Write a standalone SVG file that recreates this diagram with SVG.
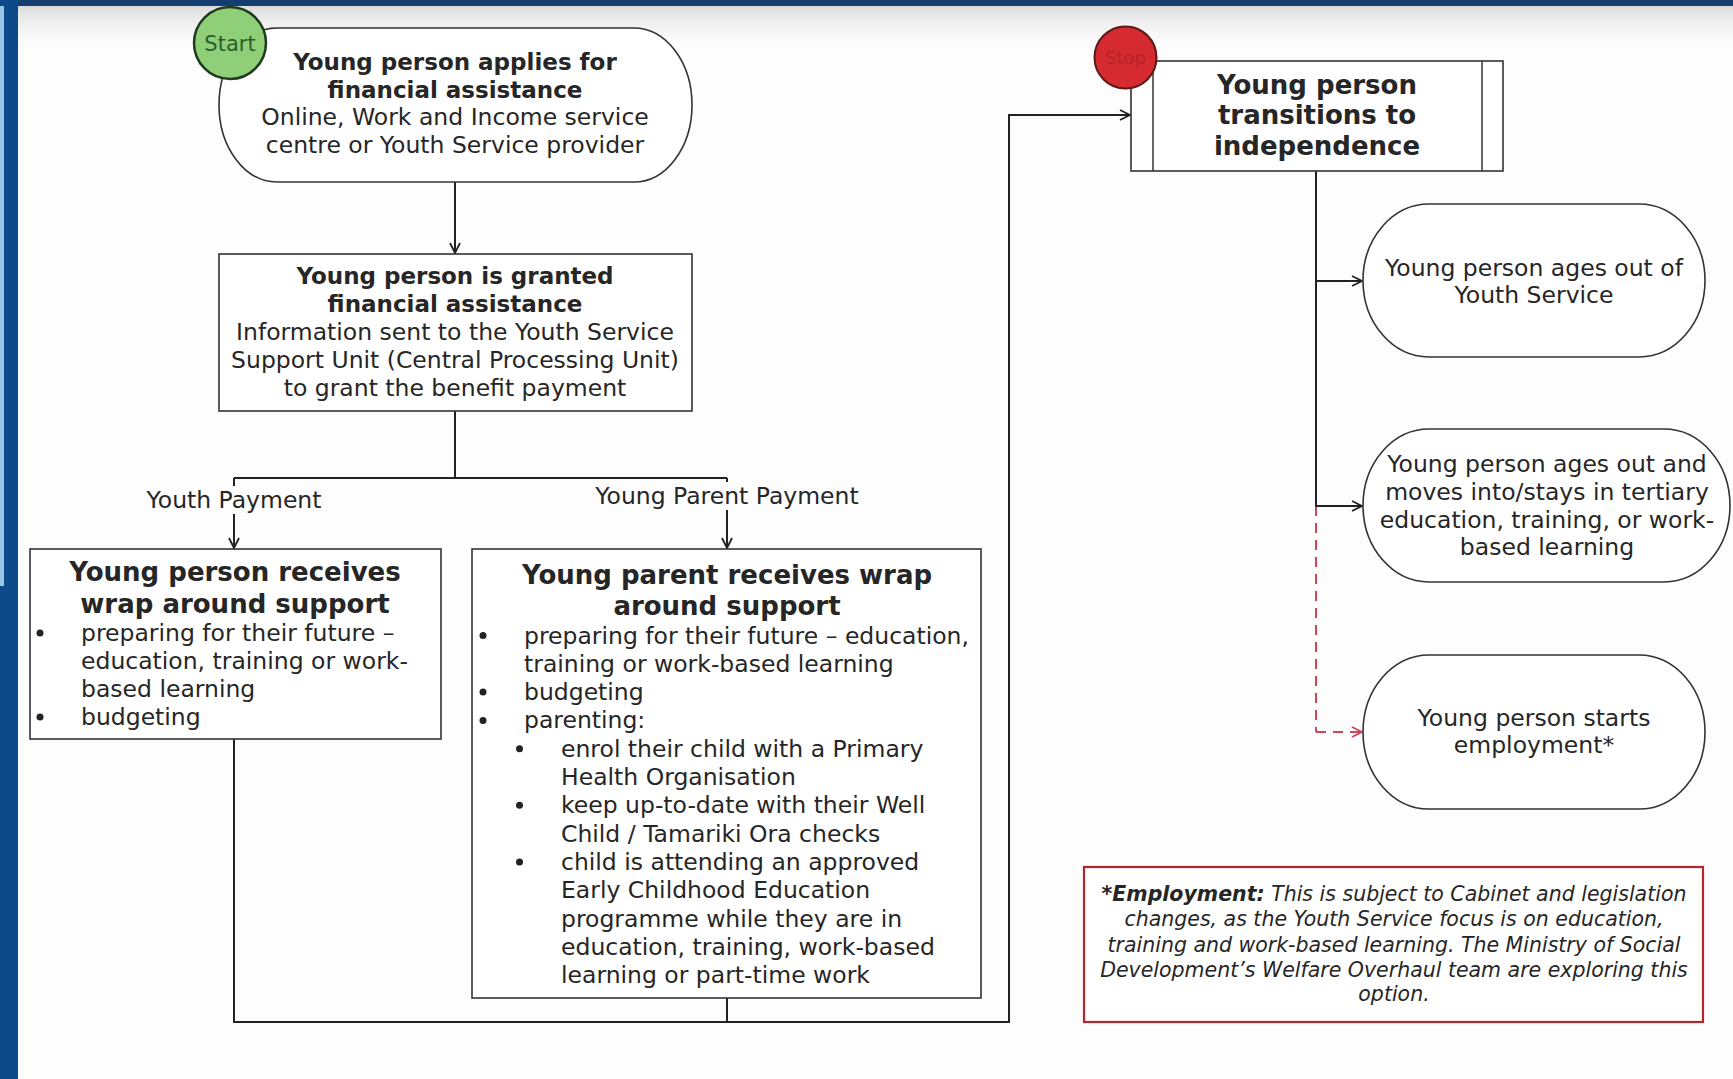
<svg xmlns="http://www.w3.org/2000/svg" width="1733" height="1079" viewBox="0 0 1733 1079">
<defs>
<linearGradient id="topfade" x1="0" y1="0" x2="0" y2="1">
<stop offset="0" stop-color="#dcdcdc"/>
<stop offset="1" stop-color="#ffffff" stop-opacity="0"/>
</linearGradient>
<marker id="arr" viewBox="0 0 12 12" refX="11" refY="6" markerWidth="12" markerHeight="12" markerUnits="userSpaceOnUse" orient="auto">
<path d="M1,1 L11,6 L1,11" fill="none" stroke="#222" stroke-width="1.8"/>
</marker>
<marker id="arrR" viewBox="0 0 12 12" refX="11" refY="6" markerWidth="12" markerHeight="12" markerUnits="userSpaceOnUse" orient="auto">
<path d="M1,1 L11,6 L1,11" fill="none" stroke="#d0455a" stroke-width="1.8"/>
</marker>
</defs>
<style>
.t{font-family:"DejaVu Sans","Liberation Sans",sans-serif;font-size:23.5px;fill:#262626}
.c{text-anchor:middle}
.b{font-weight:bold;font-size:23px}
.h{font-weight:bold;font-size:26px}
.f{font-family:"DejaVu Sans","Liberation Sans",sans-serif;font-size:20.5px;font-style:italic;fill:#262626;text-anchor:middle}
.box{fill:#ffffff;stroke:#333;stroke-width:1.6}
.ln{fill:none;stroke:#222;stroke-width:2}
.dot{fill:#222}
</style>
<rect x="0" y="0" width="1733" height="1079" fill="#fdfdfd"/>
<rect x="0" y="6" width="1733" height="50" fill="url(#topfade)"/>
<rect x="0" y="0" width="1733" height="6" fill="#153e70"/>
<rect x="0" y="0" width="18" height="1079" fill="#0c4a8a"/>
<rect x="0" y="6" width="4" height="580" fill="#9cc5ea"/>

<g id="connectors">
<line class="ln" x1="455" y1="182" x2="455" y2="253" marker-end="url(#arr)"/>
<polyline class="ln" points="455,411 455,478"/>
<polyline class="ln" points="234,478 727,478"/>
<line class="ln" x1="234" y1="478" x2="234" y2="486"/>
<line class="ln" x1="234" y1="514" x2="234" y2="548" marker-end="url(#arr)"/>
<line class="ln" x1="727" y1="478" x2="727" y2="482"/>
<line class="ln" x1="727" y1="510" x2="727" y2="548" marker-end="url(#arr)"/>
<polyline class="ln" points="234,739 234,1022 1009,1022 1009,115 1130,115" marker-end="url(#arr)"/>
<line class="ln" x1="727" y1="998" x2="727" y2="1022"/>
<line x1="1316" y1="506" x2="1316" y2="732" fill="none" stroke="#d0455a" stroke-width="2" stroke-dasharray="10,7"/>
<line x1="1316" y1="732" x2="1362" y2="732" fill="none" stroke="#d0455a" stroke-width="2" stroke-dasharray="10,7" marker-end="url(#arrR)"/>
<line class="ln" x1="1316" y1="171" x2="1316" y2="507" stroke="#3a2226"/>
<line class="ln" x1="1316" y1="281" x2="1362" y2="281" marker-end="url(#arr)"/>
<line class="ln" x1="1316" y1="506" x2="1362" y2="506" marker-end="url(#arr)"/>
<text class="t c" x="234" y="508">Youth Payment</text>
<text class="t c" x="727" y="504">Young Parent Payment</text>
</g>

<g id="apply">
<rect class="box" x="219" y="28" width="473" height="154" rx="58" ry="77"/>
<text class="t c b" x="455" y="70">Young person applies for</text>
<text class="t c b" x="455" y="97.5">financial assistance</text>
<text class="t c" x="455" y="125">Online, Work and Income service</text>
<text class="t c" x="455" y="153">centre or Youth Service provider</text>
</g>

<g id="start">
<circle cx="230" cy="43" r="36" fill="#8fcf78" stroke="#1f3a1f" stroke-width="2.5"/>
<text class="t c" x="230" y="50.5" style="font-size:21px;fill:#2b5e2b">Start</text>
</g>

<g id="granted">
<rect class="box" x="219" y="254" width="473" height="157"/>
<text class="t c b" x="455" y="284">Young person is granted</text>
<text class="t c b" x="455" y="312">financial assistance</text>
<text class="t c" x="455" y="340">Information sent to the Youth Service</text>
<text class="t c" x="455" y="368">Support Unit (Central Processing Unit)</text>
<text class="t c" x="455" y="396">to grant the benefit payment</text>
</g>

<g id="youth-support">
<rect class="box" x="30" y="549" width="411" height="190"/>
<text class="t c h" x="235" y="580.5">Young person receives</text>
<text class="t c h" x="235" y="612.5">wrap around support</text>
<circle class="dot" cx="40" cy="633" r="3.5"/>
<text class="t" x="81" y="641">preparing for their future –</text>
<text class="t" x="81" y="669">education, training or work-</text>
<text class="t" x="81" y="697">based learning</text>
<circle class="dot" cx="40" cy="717" r="3.5"/>
<text class="t" x="81" y="725">budgeting</text>
</g>

<g id="parent-support">
<rect class="box" x="472" y="549" width="509" height="449"/>
<text class="t c h" x="727" y="584">Young parent receives wrap</text>
<text class="t c h" x="727" y="615">around support</text>
<circle class="dot" cx="483" cy="635.5" r="3.5"/>
<text class="t" x="524" y="643.5">preparing for their future – education,</text>
<text class="t" x="524" y="671.8">training or work-based learning</text>
<circle class="dot" cx="483" cy="692.1" r="3.5"/>
<text class="t" x="524" y="700.1">budgeting</text>
<circle class="dot" cx="483" cy="720.4" r="3.5"/>
<text class="t" x="524" y="728.4">parenting:</text>
<circle class="dot" cx="519.5" cy="748.7" r="3.5"/>
<text class="t" x="561" y="756.7">enrol their child with a Primary</text>
<text class="t" x="561" y="785">Health Organisation</text>
<circle class="dot" cx="519.5" cy="805.3" r="3.5"/>
<text class="t" x="561" y="813.3">keep up-to-date with their Well</text>
<text class="t" x="561" y="841.6">Child / Tamariki Ora checks</text>
<circle class="dot" cx="519.5" cy="861.9" r="3.5"/>
<text class="t" x="561" y="869.9">child is attending an approved</text>
<text class="t" x="561" y="898.2">Early Childhood Education</text>
<text class="t" x="561" y="926.5">programme while they are in</text>
<text class="t" x="561" y="954.8">education, training, work-based</text>
<text class="t" x="561" y="983.1">learning or part-time work</text>
</g>

<g id="transition">
<rect class="box" x="1131" y="61" width="372" height="110"/>
<line x1="1153" y1="61" x2="1153" y2="171" stroke="#333" stroke-width="1.5"/>
<line x1="1482" y1="61" x2="1482" y2="171" stroke="#333" stroke-width="1.5"/>
<text class="t c h" x="1317" y="94">Young person</text>
<text class="t c h" x="1317" y="124">transitions to</text>
<text class="t c h" x="1317" y="155">independence</text>
</g>

<g id="stop">
<circle cx="1125.5" cy="57.5" r="31" fill="#d42a30" stroke="#5a1a1a" stroke-width="2"/>
<text class="t c" x="1125.5" y="64" style="font-size:18px;fill:#b8222a">Stop</text>
</g>

<g id="ages-out">
<rect class="box" x="1363" y="204" width="342" height="153" rx="66" ry="76.5"/>
<text class="t c" x="1534" y="275.5">Young person ages out of</text>
<text class="t c" x="1534" y="303">Youth Service</text>
</g>

<g id="tertiary">
<rect class="box" x="1363" y="429" width="367" height="153" rx="66" ry="76.5"/>
<text class="t c" x="1547" y="472">Young person ages out and</text>
<text class="t c" x="1547" y="500">moves into/stays in tertiary</text>
<text class="t c" x="1547" y="527.5">education, training, or work-</text>
<text class="t c" x="1547" y="555">based learning</text>
</g>

<g id="employment">
<rect class="box" x="1363" y="655" width="342" height="154" rx="66" ry="77"/>
<text class="t c" x="1534" y="725.5">Young person starts</text>
<text class="t c" x="1534" y="753">employment*</text>
</g>

<g id="footnote">
<rect x="1084" y="867" width="619" height="155" fill="#ffffff" stroke="#b3262e" stroke-width="2.2"/>
<text class="f" x="1394" y="900.5"><tspan font-weight="bold">*Employment:</tspan> This is subject to Cabinet and legislation</text>
<text class="f" x="1394" y="926">changes, as the Youth Service focus is on education,</text>
<text class="f" x="1394" y="951.5">training and work-based learning. The Ministry of Social</text>
<text class="f" x="1394" y="977">Development’s Welfare Overhaul team are exploring this</text>
<text class="f" x="1394" y="1001">option.</text>
</g>
</svg>
